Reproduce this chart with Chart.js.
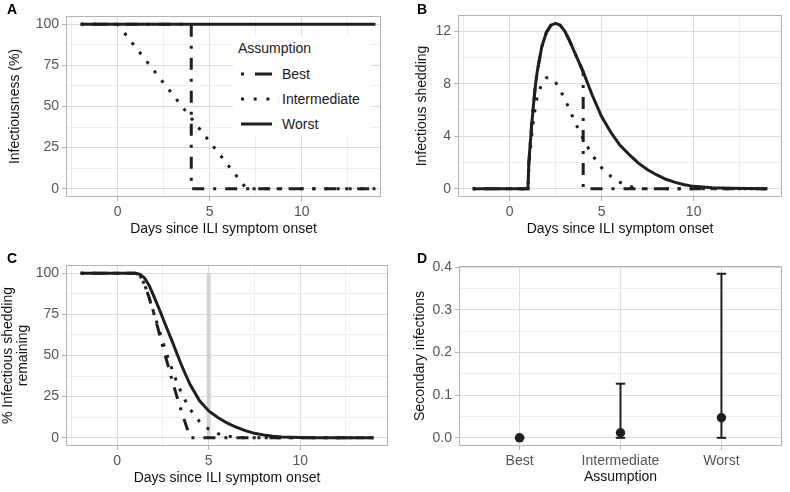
<!DOCTYPE html>
<html>
<head>
<meta charset="utf-8">
<script src="https://cdn.jsdelivr.net/npm/chart.js@4.4.1/dist/chart.umd.min.js"></script>
<style>
  body { margin: 0; background: #fff; }
  #wrap { position: relative; width: 790px; height: 492px; font-family: "Liberation Sans", Arial, sans-serif; }
  canvas { position: absolute; }
  .tag { position: absolute; font-weight: bold; font-size: 14px; line-height: 14px; color: #000; }
  #legend { position: absolute; left: 233px; top: 36px; width: 138px; height: 100px; background: #fff;
            font-size: 14px; line-height: 14px; color: #1a1a1a; }
  #legend div, #legend svg { position: absolute; }
</style>
</head>
<body>
<div id="wrap">
  <canvas id="cA" width="395" height="246" style="left:0;top:0"></canvas>
  <canvas id="cB" width="395" height="246" style="left:395px;top:0"></canvas>
  <canvas id="cC" width="395" height="246" style="left:0;top:246px"></canvas>
  <canvas id="cD" width="395" height="246" style="left:395px;top:246px"></canvas>

  <div class="tag" style="left:7px;top:2px">A</div>
  <div class="tag" style="left:417px;top:2px">B</div>
  <div class="tag" style="left:7px;top:251px">C</div>
  <div class="tag" style="left:417px;top:251px">D</div>

  <div id="legend">
    <div style="left:5px;top:5px">Assumption</div>
    <svg style="left:8px;top:35px" width="31" height="6"><line x1="0" y1="3" x2="31" y2="3" stroke="#1f1f1f" stroke-width="3" stroke-dasharray="3 11 17 9"/></svg>
    <div style="left:49px;top:31px">Best</div>
    <svg style="left:8px;top:60px" width="31" height="6"><line x1="0" y1="3" x2="31" y2="3" stroke="#1f1f1f" stroke-width="3" stroke-dasharray="3 9.7"/></svg>
    <div style="left:49px;top:56px">Intermediate</div>
    <svg style="left:8px;top:85px" width="31" height="6"><line x1="0" y1="3" x2="31" y2="3" stroke="#1f1f1f" stroke-width="3"/></svg>
    <div style="left:49px;top:81px">Worst</div>
  </div>
</div>

<script>
// ---- A: infectiousness (%) by assumption
const daysBestA = [-2, 4, 4, 14];
const infBestA = [100, 100, 0, 0];
const daysIntA = [-2, 0, 7, 14];
const infIntA = [100, 100, 0, 0];
const daysWorstA = [-2, 14];
const infWorstA = [100, 100];

// ---- B: infectious shedding
const shedDays = [-2, 1, 1.05, 1.1, 1.2, 1.3, 1.4, 1.5, 1.75, 2, 2.25, 2.5, 2.75, 3, 3.25, 3.5, 3.75, 4,
                  4.5, 5, 5.5, 6, 6.5, 7, 7.5, 8, 8.5, 9, 9.5, 10, 11, 12, 13, 14];
const shedWorst = [0, 0, 2.0, 3.0, 4.8, 6.4, 7.8, 8.9, 10.8, 11.9, 12.45, 12.6, 12.45, 12.0, 11.3, 10.5, 9.7, 8.9,
                   7.1, 5.5, 4.3, 3.3, 2.6, 1.95, 1.45, 1.05, 0.72, 0.48, 0.3, 0.18, 0.07, 0.03, 0.01, 0];
const shedInt = [0, 0, 1.7, 2.5, 4.0, 5.2, 6.2, 7.0, 8.0, 8.45, 8.45, 8.1, 7.5, 6.85, 6.05, 5.25, 4.5, 3.8,
                 2.55, 1.6, 0.95, 0.48, 0.2, 0, 0, 0, 0, 0, 0, 0, 0, 0, 0, 0];
const shedBestDays = [-2, 1, 1.05, 1.1, 1.2, 1.3, 1.4, 1.5, 1.75, 2, 2.25, 2.5, 2.75, 3, 3.25, 3.5, 3.75, 4, 4, 14];
const shedBest = [0, 0, 2.0, 3.0, 4.8, 6.4, 7.8, 8.9, 10.8, 11.9, 12.45, 12.6, 12.45, 12.0, 11.3, 10.5, 9.7, 8.9, 0, 0];

// ---- C: % infectious shedding remaining
const remWorstDays = [-2, 1, 1.25, 1.5, 1.75, 2, 2.25, 2.5, 2.75, 3, 3.25, 3.5, 3.75, 4, 4.5, 5, 5.5, 6, 6.5, 7,
                      7.5, 8, 8.5, 9, 10, 11, 14];
const remWorst = [100, 100, 99.3, 97, 92.5, 86, 79.5, 72.5, 65.5, 58.7, 51.5, 44.5, 38, 32, 22.5, 16.3, 12.3, 9.0, 6.4, 4.3,
                  2.7, 1.7, 0.9, 0.5, 0.15, 0.05, 0];
const remIntDays = [-2, 1, 1.25, 1.5, 1.75, 2, 2.25, 2.5, 2.75, 3, 3.25, 3.5, 3.75, 4, 4.5, 5, 5.5, 6, 6.5, 7, 14];
const remInt = [100, 100, 98.6, 93, 85, 76, 67, 58, 49.5, 41.5, 34, 27.5, 22, 17, 9.8, 5.2, 2.5, 1.0, 0.3, 0, 0];
const remBestDays = [-2, 1, 1.25, 1.5, 1.75, 2, 2.25, 2.5, 2.75, 3, 3.25, 3.5, 3.75, 4, 14];
const remBest = [100, 100, 98.5, 93, 85, 75.5, 65.5, 55, 45, 35, 25.5, 16.5, 8, 0, 0];
const cutoffDay = [5, 5];
const cutoffPct = [0, 100];

// ---- D: secondary infections
const assumptions = ['Best', 'Intermediate', 'Worst'];
const secMean = [0, 0.012, 0.047];
const secLow = [0, 0, 0];
const secHigh = [0, 0.127, 0.385];

// ---- ticks
const dayTicks = [0, 5, 10];
const dayLabels = ['0', '5', '10'];
const dayMinor = [-2.5, 2.5, 7.5, 12.5];
const pctTicks = [0, 25, 50, 75, 100];
const pctLabels = ['0', '25', '50', '75', '100'];
const pctMinor = [12.5, 37.5, 62.5, 87.5];
const shedTicks = [0, 4, 8, 12];
const shedLabels = ['0', '4', '8', '12'];
const shedMinor = [2, 6, 10];
const secTicks = [0, 0.1, 0.2, 0.3, 0.4];
const secLabels = ['0.0', '0.1', '0.2', '0.3', '0.4'];
const secMinor = [0.05, 0.15, 0.25, 0.35];

const FONT = '"Liberation Sans", Arial, sans-serif';
const INK = '#1f1f1f';
const DOTDASH = [3, 9, 12, 9];
const DOTTED = [3, 9];
Chart.defaults.font.family = FONT;

function pts(xs, ys) {
  return xs.map((x, i) => ({x: x, y: ys[i]}));
}

function line(xs, ys, dash) {
  return {
    data: pts(xs, ys), borderColor: INK, borderWidth: 3, borderDash: dash || [],
    pointRadius: 0, tension: 0, fill: false
  };
}

function axis(o) {
  const all = o.major.concat(o.minor).sort((a, b) => a - b);
  const isMajor = c => c.tick && o.major.indexOf(c.tick.value) >= 0;
  return {
    type: 'linear', min: o.min, max: o.max,
    afterBuildTicks: ax => { ax.ticks = all.map(v => ({value: v})); },
    afterFit: ax => { if (o.horizontal) ax.height = o.size; else ax.width = o.size; },
    border: {display: false},
    grid: {
      color: c => isMajor(c) ? '#dcdcdc' : '#eeeeee',
      tickColor: c => isMajor(c) ? '#b3b3b3' : 'rgba(0,0,0,0)',
      tickLength: 4, lineWidth: 1
    },
    ticks: {
      autoSkip: false, maxRotation: 0, padding: 3, color: '#555', font: {size: 14},
      callback: v => { const i = o.major.indexOf(v); return i < 0 ? '' : o.labels[i]; }
    },
    title: {
      display: true, text: o.title, color: '#111',
      font: {size: 14, lineHeight: o.lh || 1.2}, padding: o.pad
    }
  };
}

// panel border on top of the data
const frame = {
  id: 'frame',
  afterDatasetsDraw(chart) {
    const a = chart.chartArea, c = chart.ctx;
    c.save();
    c.strokeStyle = '#b3b3b3';
    c.lineWidth = 1;
    c.strokeRect(a.left + 0.5, a.top + 0.5, a.right - a.left - 1, a.bottom - a.top - 1);
    c.restore();
  }
};

function panel(id, area, datasets, x, y) {
  const W = 395, H = 246;
  x.horizontal = true; x.size = H - area.b;
  y.size = area.l;
  return new Chart(document.getElementById(id), {
    type: 'line',
    data: {datasets: datasets},
    options: {
      responsive: false, animation: false, devicePixelRatio: 1,
      layout: {padding: {left: 0, top: area.t, right: W - area.r, bottom: 0}},
      plugins: {legend: {display: false}, tooltip: {enabled: false}},
      scales: {x: axis(x), y: axis(y)}
    },
    plugins: [frame]
  });
}

panel('cA', {l: 66, t: 16, r: 381, b: 197}, [
  line(daysWorstA, infWorstA),
  line(daysIntA, infIntA, DOTTED),
  line(daysBestA, infBestA, DOTDASH)
], {min: -2.8, max: 14.3, major: dayTicks, minor: dayMinor, labels: dayLabels,
    title: 'Days since ILI symptom onset', pad: {bottom: 8.5}},
   {min: -5, max: 105, major: pctTicks, minor: pctMinor, labels: pctLabels,
    title: 'Infectiousness (%)', pad: {top: 6.6}});

panel('cB', {l: 63, t: 15, r: 387, b: 197}, [
  line(shedDays, shedWorst),
  line(shedDays, shedInt, DOTTED),
  line(shedBestDays, shedBest, DOTDASH)
], {min: -2.8, max: 14.8, major: dayTicks, minor: dayMinor, labels: dayLabels,
    title: 'Days since ILI symptom onset', pad: {bottom: 8.5}},
   {min: -0.63, max: 13.23, major: shedTicks, minor: shedMinor, labels: shedLabels,
    title: 'Infectious shedding', pad: {top: 18.3}});

const grey = line(cutoffDay, cutoffPct);
grey.borderColor = '#d3d3d3';
grey.borderWidth = 4;
grey.order = 1;

panel('cC', {l: 66, t: 19, r: 388, b: 200}, [
  line(remWorstDays, remWorst),
  line(remIntDays, remInt, DOTTED),
  line(remBestDays, remBest, DOTDASH),
  grey
], {min: -2.8, max: 14.8, major: dayTicks, minor: dayMinor, labels: dayLabels,
    title: 'Days since ILI symptom onset', pad: {bottom: 5.2}},
   {min: -5, max: 105, major: pctTicks, minor: pctMinor, labels: pctLabels,
    title: ['% Infectious shedding', 'remaining'], lh: 15 / 14, pad: {top: 1}});

// D: mean as a dot, interval as a capped vertical line
const idx = assumptions.map((a, i) => i);
const meanSet = {
  data: pts(idx, secMean), showLine: false, pointRadius: 4.7,
  pointBackgroundColor: INK, pointBorderWidth: 0
};
const barSets = idx.map(i => ({
  data: pts([i, i], [secLow[i], secHigh[i]]), borderColor: INK, borderWidth: 2,
  pointStyle: 'line', pointRadius: 4.7, pointBorderColor: INK, pointBorderWidth: 2, tension: 0
}));

panel('cD', {l: 64, t: 20, r: 387, b: 200}, [meanSet].concat(barSets),
  {min: -0.6, max: 2.6, major: idx, minor: [], labels: assumptions,
   title: 'Assumption', pad: {bottom: 6.5}},
  {min: -0.0192, max: 0.4032, major: secTicks, minor: secMinor, labels: secLabels,
   title: 'Secondary infections', pad: {top: 16.6}});
</script>
</body>
</html>
